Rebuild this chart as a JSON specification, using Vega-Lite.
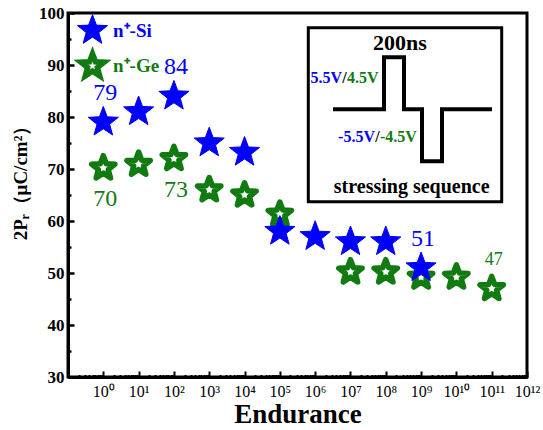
{
  "$schema": "https://vega.github.io/schema/vega-lite/v6.json",
  "width": 459,
  "height": 364,
  "autosize": "none",
  "padding": {"left": 68, "top": 13, "right": 16, "bottom": 53},
  "background": "white",
  "config": {
    "view": {"stroke": "black", "strokeWidth": 3},
    "font": "Liberation Serif"
  },
  "datasets": {
    "main": [
      {"series": "Ge", "x": 1, "y": 70.2, "label": 70},
      {"series": "Ge", "x": 10, "y": 70.9},
      {"series": "Ge", "x": 100, "y": 72, "label": 73},
      {"series": "Ge", "x": 1000, "y": 66},
      {"series": "Ge", "x": 10000, "y": 65},
      {"series": "Ge", "x": 100000, "y": 61.3},
      {"series": "Ge", "x": 10000000, "y": 50.2},
      {"series": "Ge", "x": 100000000, "y": 50.2},
      {"series": "Ge", "x": 1000000000, "y": 49.2},
      {"series": "Ge", "x": 10000000000, "y": 49.2},
      {"series": "Ge", "x": 100000000000, "y": 47, "label": 47},
      {"series": "Si", "x": 1, "y": 79, "label": 79},
      {"series": "Si", "x": 10, "y": 81},
      {"series": "Si", "x": 100, "y": 84, "label": 84},
      {"series": "Si", "x": 1000, "y": 75},
      {"series": "Si", "x": 10000, "y": 73.2},
      {"series": "Si", "x": 100000, "y": 58},
      {"series": "Si", "x": 1000000, "y": 57},
      {"series": "Si", "x": 10000000, "y": 56},
      {"series": "Si", "x": 100000000, "y": 56},
      {"series": "Si", "x": 1000000000, "y": 51, "label": 51}
    ],
    "wave": [
      {"i": 0, "t": -510, "v": 0},
      {"i": 1, "t": 0, "v": 0},
      {"i": 2, "t": 0, "v": 5.5},
      {"i": 3, "t": 200, "v": 5.5},
      {"i": 4, "t": 200, "v": 0},
      {"i": 5, "t": 380, "v": 0},
      {"i": 6, "t": 380, "v": -5.5},
      {"i": 7, "t": 580, "v": -5.5},
      {"i": 8, "t": 580, "v": 0},
      {"i": 9, "t": 1080, "v": 0}
    ],
    "box": [{"t1": -757, "t2": 1177, "v1": 8.63, "v2": -9.78}],
    "volts": [
      {"text": "5.5V", "part": "Si", "t": -420, "v": 2.75},
      {"text": "/", "part": "sep", "t": -395, "v": 2.75},
      {"text": "4.5V", "part": "Ge", "t": -370, "v": 2.75},
      {"text": "-5.5V", "part": "Si", "t": -90, "v": -3.43},
      {"text": "/", "part": "sep", "t": -65, "v": -3.43},
      {"text": "-4.5V", "part": "Ge", "t": -40, "v": -3.43}
    ],
    "titles": [
      {"text": "200ns", "kind": "big", "t": 160, "v": 6.27},
      {"text": "stressing sequence", "kind": "small", "t": 277, "v": -8.89}
    ]
  },
  "layer": [
    {
      "data": {"name": "main"},
      "encoding": {
        "x": {
          "field": "x", "type": "quantitative",
          "scale": {"type": "log", "domain": [0.1, 1000000000000], "nice": false},
          "axis": {
            "title": "Endurance",
            "titleFont": "Liberation Serif", "titleFontSize": 27, "titleFontWeight": "bold", "titleColor": "black",
            "titleBaseline": "middle", "titleY": 37,
            "labelFont": "Liberation Serif", "labelFontSize": 16, "labelColor": "black",
            "labelOverlap": false, "labelFlush": false,
            "tickCount": 100,
            "labelExpr": "abs(log(datum.value)/LN10 - round(log(datum.value)/LN10)) > 0.001 || datum.value < 0.5 ? '' : '10' + (round(log(datum.value)/LN10) >= 10 ? '¹' + substring('⁰¹²³⁴⁵⁶⁷⁸⁹', round(log(datum.value)/LN10) - 10, round(log(datum.value)/LN10) - 9) : substring('⁰¹²³⁴⁵⁶⁷⁸⁹', round(log(datum.value)/LN10), round(log(datum.value)/LN10) + 1))",
            "tickSize": {"condition": {"test": "abs(log(datum.value)/LN10 - round(log(datum.value)/LN10)) < 0.001", "value": -6}, "value": -2.5},
            "tickWidth": 2, "tickColor": "black",
            "domainColor": "black", "domainWidth": 3,
            "labelPadding": 12,
            "grid": false
          }
        },
        "y": {
          "field": "y", "type": "quantitative",
          "scale": {"domain": [30, 100], "nice": false, "zero": false},
          "axis": {
            "title": "2Pᵣ（μC/cm²）",
            "titleFont": "Liberation Serif", "titleFontSize": 19, "titleFontWeight": "bold", "titleColor": "black",
            "titleX": -48, "titleY": 165, "titleAlign": "center", "titleBaseline": "middle", "titleAngle": -90,
            "values": [30, 35, 40, 45, 50, 55, 60, 65, 70, 75, 80, 85, 90, 95, 100],
            "labelExpr": "datum.value % 10 === 0 ? datum.label : ''",
            "labelFont": "Liberation Serif", "labelFontSize": 17, "labelFontWeight": "bold", "labelColor": "black",
            "tickSize": {"condition": {"test": "datum.value % 10 === 0", "value": -6}, "value": -3},
            "tickWidth": 2.5, "tickColor": "black",
            "domainColor": "black", "domainWidth": 3,
            "labelPadding": 10,
            "grid": false
          }
        }
      },
      "layer": [
        {
          "mark": {
            "type": "point",
            "shape": "M0,-1L0.247,-0.34L0.951,-0.309L0.399,0.13L0.588,0.809L0,0.42L-0.588,0.809L-0.399,0.13L-0.951,-0.309L-0.247,-0.34Z",
            "opacity": 1,
            "strokeJoin": "round"
          },
          "encoding": {
            "fill": {
              "field": "series", "type": "nominal",
              "scale": {"domain": ["Si", "Ge"], "range": ["#0000ff", "#ffffff"]},
              "legend": {
                "title": null,
                "orient": "none", "legendX": 8, "legendY": 1,
                "padding": 0,
                "symbolType": "M0,-1L0.247,-0.34L0.951,-0.309L0.399,0.13L0.588,0.809L0,0.42L-0.588,0.809L-0.399,0.13L-0.951,-0.309L-0.247,-0.34Z",
                "labelExpr": "datum.value == 'Si' ? 'n⁺-Si' : 'n⁺-Ge'",
                "labelFont": "Liberation Serif", "labelFontSize": 19, "labelFontWeight": "bold",
                "labelColor": {"expr": "datum.value == 'Si' ? '#0000ff' : '#117a11'"},
                "labelOffset": 4, "rowPadding": -4
              }
            },
            "stroke": {
              "field": "series", "type": "nominal",
              "scale": {"domain": ["Si", "Ge"], "range": ["#0000ff", "#117a11"]},
              "legend": {
                "title": null,
                "orient": "none", "legendX": 8, "legendY": 1,
                "padding": 0,
                "symbolType": "M0,-1L0.247,-0.34L0.951,-0.309L0.399,0.13L0.588,0.809L0,0.42L-0.588,0.809L-0.399,0.13L-0.951,-0.309L-0.247,-0.34Z",
                "labelExpr": "datum.value == 'Si' ? 'n⁺-Si' : 'n⁺-Ge'",
                "labelFont": "Liberation Serif", "labelFontSize": 19, "labelFontWeight": "bold",
                "labelColor": {"expr": "datum.value == 'Si' ? '#0000ff' : '#117a11'"},
                "labelOffset": 4, "rowPadding": -4
              }
            },
            "strokeWidth": {
              "field": "series", "type": "nominal",
              "scale": {"domain": ["Si", "Ge"], "range": [1, 5.5]},
              "legend": {
                "title": null,
                "orient": "none", "legendX": 8, "legendY": 1,
                "padding": 0,
                "symbolType": "M0,-1L0.247,-0.34L0.951,-0.309L0.399,0.13L0.588,0.809L0,0.42L-0.588,0.809L-0.399,0.13L-0.951,-0.309L-0.247,-0.34Z",
                "labelExpr": "datum.value == 'Si' ? 'n⁺-Si' : 'n⁺-Ge'",
                "labelFont": "Liberation Serif", "labelFontSize": 19, "labelFontWeight": "bold",
                "labelColor": {"expr": "datum.value == 'Si' ? '#0000ff' : '#117a11'"},
                "labelOffset": 4, "rowPadding": -4
              }
            },
            "size": {
              "field": "series", "type": "nominal",
              "scale": {"domain": ["Si", "Ge"], "range": [1000, 600]},
              "legend": {
                "title": null,
                "orient": "none", "legendX": 8, "legendY": 1,
                "padding": 0,
                "symbolType": "M0,-1L0.247,-0.34L0.951,-0.309L0.399,0.13L0.588,0.809L0,0.42L-0.588,0.809L-0.399,0.13L-0.951,-0.309L-0.247,-0.34Z",
                "labelExpr": "datum.value == 'Si' ? 'n⁺-Si' : 'n⁺-Ge'",
                "labelFont": "Liberation Serif", "labelFontSize": 19, "labelFontWeight": "bold",
                "labelColor": {"expr": "datum.value == 'Si' ? '#0000ff' : '#117a11'"},
                "labelOffset": 4, "rowPadding": -4
              }
            }
          }
        },
        {
          "transform": [{"filter": "isValid(datum.label) && (datum.series == 'Si' || datum.x > 1e10)"}],
          "mark": {"type": "text", "font": "Liberation Serif", "dy": -29, "dx": 2},
          "encoding": {
            "text": {"field": "label", "type": "nominal"},
            "size": {"condition": {"test": "datum.label == 47", "value": 18}, "value": 24},
            "color": {"condition": {"test": "datum.series == 'Si'", "value": "#0000ff"}, "value": "#117a11"}
          }
        },
        {
          "transform": [{"filter": "isValid(datum.label) && datum.series == 'Ge' && datum.x < 1e10"}],
          "mark": {"type": "text", "font": "Liberation Serif", "dy": 31, "dx": 2},
          "encoding": {
            "text": {"field": "label", "type": "nominal"},
            "size": {"value": 24},
            "color": {"value": "#117a11"}
          }
        }
      ]
    },
    {
      "encoding": {
        "x": {"field": "t", "type": "quantitative", "scale": {"domain": [-3160, 1430], "nice": false, "zero": false}, "axis": null},
        "y": {"field": "v", "type": "quantitative", "scale": {"domain": [-28.33, 10.19], "nice": false, "zero": false}, "axis": null}
      },
      "layer": [
        {
          "data": {"name": "box"},
          "mark": {"type": "rect", "fill": "white", "stroke": "black", "strokeWidth": 3},
          "encoding": {
            "x": {"field": "t1", "type": "quantitative"},
            "x2": {"field": "t2"},
            "y": {"field": "v1", "type": "quantitative"},
            "y2": {"field": "v2"}
          }
        },
        {
          "data": {"name": "wave"},
          "mark": {"type": "line", "color": "black", "strokeWidth": 4, "strokeJoin": "miter", "strokeCap": "butt"},
          "encoding": {"order": {"field": "i", "type": "quantitative"}}
        },
        {
          "data": {"name": "volts"},
          "transform": [{"filter": "datum.part == 'Si'"}],
          "mark": {"type": "text", "align": "right", "baseline": "alphabetic", "font": "Liberation Serif", "fontWeight": "bold", "fontSize": 16, "color": "#0000ff"},
          "encoding": {"text": {"field": "text"}}
        },
        {
          "data": {"name": "volts"},
          "transform": [{"filter": "datum.part == 'sep'"}],
          "mark": {"type": "text", "align": "center", "baseline": "alphabetic", "font": "Liberation Serif", "fontWeight": "bold", "fontSize": 16, "color": "black"},
          "encoding": {"text": {"field": "text"}}
        },
        {
          "data": {"name": "volts"},
          "transform": [{"filter": "datum.part == 'Ge'"}],
          "mark": {"type": "text", "align": "left", "baseline": "alphabetic", "font": "Liberation Serif", "fontWeight": "bold", "fontSize": 16, "color": "#117a11"},
          "encoding": {"text": {"field": "text"}}
        },
        {
          "data": {"name": "titles"},
          "transform": [{"filter": "datum.kind == 'big'"}],
          "mark": {"type": "text", "align": "center", "baseline": "alphabetic", "font": "Liberation Serif", "fontWeight": "bold", "fontSize": 22, "color": "black"},
          "encoding": {"text": {"field": "text"}}
        },
        {
          "data": {"name": "titles"},
          "transform": [{"filter": "datum.kind == 'small'"}],
          "mark": {"type": "text", "align": "center", "baseline": "alphabetic", "font": "Liberation Serif", "fontWeight": "bold", "fontSize": 20, "color": "black"},
          "encoding": {"text": {"field": "text"}}
        }
      ]
    }
  ],
  "resolve": {"scale": {"x": "independent", "y": "independent"}}
}
